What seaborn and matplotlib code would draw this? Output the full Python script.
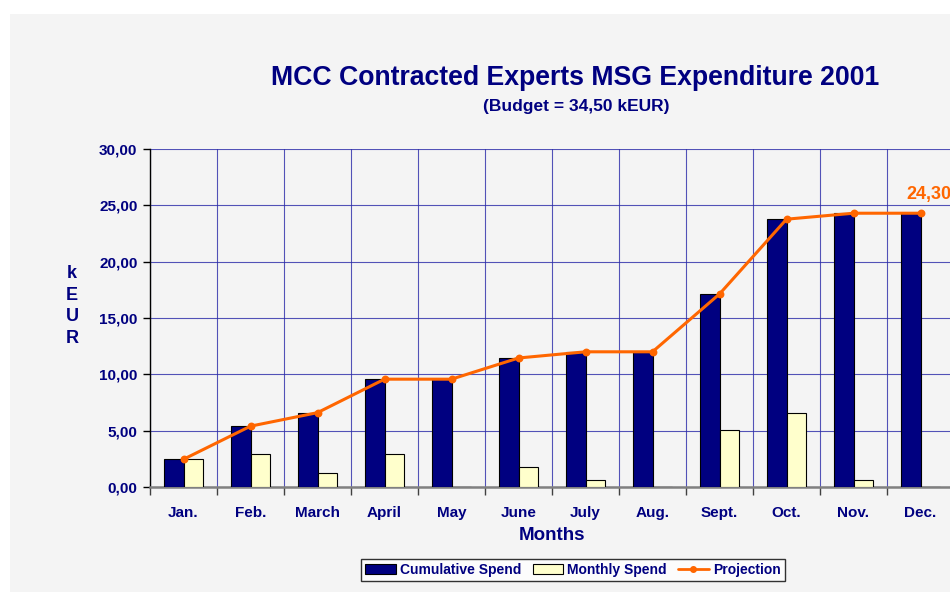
import matplotlib
matplotlib.use("Agg")
import matplotlib.pyplot as plt
import matplotlib.patches as mpatches
from matplotlib.lines import Line2D
import seaborn as sns
import pandas as pd
import numpy as np

# --- Data (kEUR) ---
months = ["Jan.", "Feb.", "March", "April", "May", "June",
          "July", "Aug.", "Sept.", "Oct.", "Nov.", "Dec."]
cumulative = [2.46, 5.40, 6.60, 9.57, 9.57, 11.41, 12.00, 12.00, 17.13, 23.77, 24.30, 24.30]
monthly = [2.46, 2.97, 1.22, 2.97, 0.00, 1.81, 0.60, 0.00, 5.10, 6.61, 0.60, 0.00]
projection = [2.46, 5.40, 6.60, 9.57, 9.57, 11.45, 12.00, 12.00, 17.13, 23.77, 24.30, 24.30]

NAVY = "#000080"
CREAM = "#FFFFCC"
ORANGE = "#FF6600"
BG = "#F4F4F4"

sns.set_theme(style="white")
plt.rcParams['font.family'] = ['Liberation Sans', 'DejaVu Sans']

df = pd.DataFrame({
    "month": months * 2,
    "value": cumulative + monthly,
    "series": ["Cumulative Spend"] * 12 + ["Monthly Spend"] * 12,
})

fig = plt.figure(figsize=(9.5, 5.92), dpi=100)
fig.patch.set_facecolor("white")
# light grey chart area (leaves a thin white strip top/left like the original)
fig.add_artist(mpatches.Rectangle((10 / 950, 0), 1, (592 - 14) / 592,
                                  transform=fig.transFigure, facecolor=BG,
                                  edgecolor="none", zorder=-10))

ax = fig.add_axes([150 / 950, 105 / 592, 804 / 950, 338 / 592])
ax.set_facecolor(BG)

sns.barplot(data=df, x="month", y="value", hue="series", order=months,
            palette=[NAVY, CREAM], width=0.57, edgecolor="black",
            linewidth=0.8, saturation=1, legend=False, ax=ax, zorder=3)
sns.pointplot(x=months, y=projection, color=ORANGE, markers="o",
              linestyles="-", markersize=4, linewidth=2.2, ax=ax, zorder=5)

ax.annotate("24,30", (11, projection[-1]), xytext=(-10, 7),
            textcoords="offset points", color=ORANGE, fontsize=13,
            fontweight="bold", ha="left", va="bottom", annotation_clip=False)

ax.set_ylim(0, 30)
ax.set_xlim(-0.5, 11.5)
ax.set_yticks(np.arange(0, 31, 5))
ax.set_yticklabels([f"{v:.2f}".replace(".", ",") for v in np.arange(0, 31, 5)],
                   fontsize=11, fontweight="bold", color=NAVY)

# month labels between boundary ticks
ax.set_xticks(np.arange(-0.5, 12, 1))
ax.set_xticklabels([])
ax.set_xticks(np.arange(12), minor=True)
ax.set_xticklabels(months, minor=True, fontsize=11, fontweight="bold", color=NAVY)
ax.tick_params(axis="x", which="major", direction="out", length=6, width=1,
               color="#404040", bottom=True)
ax.tick_params(axis="x", which="minor", length=0, pad=14)
ax.tick_params(axis="y", direction="out", length=5, width=1, color="black", left=True, pad=4)

ax.grid(True, axis="both", which="major", color="#2a2aa8", linewidth=0.8, alpha=0.8)
ax.set_axisbelow(True)

for s in ["top", "right"]:
    ax.spines[s].set_visible(False)
ax.spines["left"].set_color("black")
ax.spines["left"].set_linewidth(1)
ax.spines["bottom"].set_color("#808080")
ax.spines["bottom"].set_linewidth(1.8)

ax.set_xlabel("Months", fontsize=13.5, fontweight="bold", color=NAVY, labelpad=5)
ax.set_ylabel("")
fig.text(72 / 950, 1 - 306 / 592, "k\nE\nU\nR", fontsize=13, fontweight="bold",
         color=NAVY, ha="center", va="center", linespacing=1.35)

fig.text(575 / 950, 1 - 78 / 592, "MCC Contracted Experts MSG Expenditure 2001",
         fontsize=19.2, fontweight="bold", color=NAVY, ha="center", va="center")
fig.text(576 / 950, 1 - 106 / 592, "(Budget = 34,50 kEUR)",
         fontsize=12.5, fontweight="bold", color=NAVY, ha="center", va="center")

handles = [
    mpatches.Patch(facecolor=NAVY, edgecolor="black", linewidth=0.8, label="Cumulative Spend"),
    mpatches.Patch(facecolor=CREAM, edgecolor="black", linewidth=0.8, label="Monthly Spend"),
    Line2D([0], [0], color=ORANGE, lw=2, marker="o", markersize=4, label="Projection"),
]
leg = fig.legend(handles=handles, loc="center", bbox_to_anchor=(573 / 950, 1 - 570 / 592),
                 ncol=3, frameon=True, fancybox=False, fontsize=10,
                 handlelength=2.2, handleheight=0.7, handletextpad=0.3,
                 columnspacing=0.8, borderpad=0.3)
leg.get_frame().set_edgecolor("black")
leg.get_frame().set_facecolor("white")
leg.get_frame().set_linewidth(1)
for t in leg.get_texts():
    t.set_color(NAVY)
    t.set_fontweight("bold")

fig.savefig("out.png", dpi=100)
